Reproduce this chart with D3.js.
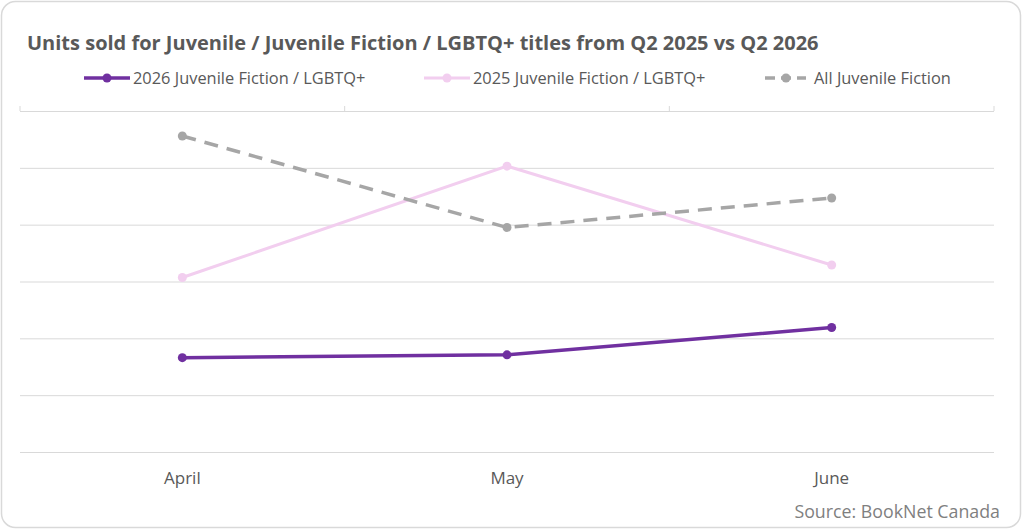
<!DOCTYPE html>
<html>
<head>
<meta charset="utf-8">
<script src="https://cdn.jsdelivr.net/npm/d3@7"></script>
<style>
  body { margin: 0; background: #fff; }
  text { font-family: "Open Sans", "Noto Sans", sans-serif; }
</style>
</head>
<body>
<script>
// chart values (no axis labels, so y is in grid units)
var months = ["April", "May", "June"];
var seriesNames = ["2026 Juvenile Fiction / LGBTQ+", "2025 Juvenile Fiction / LGBTQ+", "All Juvenile Fiction"];
var lgbtq2026 = [1.66, 1.71, 2.19];
var lgbtq2025 = [3.07, 5.03, 3.29];
var allJuvenile = [5.56, 3.95, 4.47];
var gridValues = [0, 1, 2, 3, 4, 5, 6];

var W = 1024, H = 532;
var margin = { top: 111, right: 30, bottom: 80, left: 20 };
var width = W - margin.left - margin.right,
    height = H - margin.top - margin.bottom;

var series = [
  { name: seriesNames[0], values: lgbtq2026, color: "#7030a0", width: 3.5, dash: null },
  { name: seriesNames[1], values: lgbtq2025, color: "#f2ceef", width: 3, dash: null },
  { name: seriesNames[2], values: allJuvenile, color: "#a6a6a6", width: 3.5, dash: "14,9" }
];

var svg = d3.select("body").append("svg")
  .attr("width", W).attr("height", H);

// card frame
svg.append("rect")
  .attr("x", 1.5).attr("y", 1.5)
  .attr("width", 1019).attr("height", 526)
  .attr("rx", 14)
  .attr("fill", "#fff").attr("stroke", "#d9d9d9").attr("stroke-width", 1.5);

svg.append("text")
  .attr("x", 27).attr("y", 50)
  .attr("fill", "#595959")
  .attr("font-size", 20).attr("font-weight", 700)
  .text("Units sold for Juvenile / Juvenile Fiction / LGBTQ+ titles from Q2 2025 vs Q2 2026");

var g = svg.append("g").attr("transform", "translate(" + margin.left + "," + margin.top + ")");

var x = d3.scaleBand().domain(months).range([0, width]);
var y = d3.scaleLinear().domain([0, 6]).range([height, 0]);

// gridlines
g.append("g")
  .call(d3.axisLeft(y).tickValues(gridValues).tickSize(-width).tickFormat(""))
  .call(function (a) {
    a.select(".domain").remove();
    a.selectAll("line").attr("stroke", "#d9d9d9");
  });

// category tick marks on the top line
var bounds = months.map(function (m) { return x(m); }).concat([width]);
g.selectAll(".ctick").data(bounds).enter().append("line")
  .attr("x1", function (d) { return d; }).attr("x2", function (d) { return d; })
  .attr("y1", -5).attr("y2", 0)
  .attr("stroke", "#d9d9d9");

// month labels
g.append("g")
  .attr("transform", "translate(0," + height + ")")
  .call(d3.axisBottom(x).tickSize(0).tickPadding(20))
  .call(function (a) {
    a.select(".domain").remove();
    a.selectAll("text").attr("fill", "#595959").attr("font-size", 17);
  });

var line = d3.line()
  .x(function (d, i) { return x(months[i]) + x.bandwidth() / 2; })
  .y(function (d) { return y(d); });

series.forEach(function (s) {
  g.append("path")
    .datum(s.values)
    .attr("fill", "none")
    .attr("stroke", s.color)
    .attr("stroke-width", s.width)
    .attr("stroke-dasharray", s.dash)
    .attr("d", line);
  g.selectAll(null).data(s.values).enter().append("circle")
    .attr("cx", function (d, i) { return x(months[i]) + x.bandwidth() / 2; })
    .attr("cy", function (d) { return y(d); })
    .attr("r", 4.5)
    .attr("fill", s.color);
});

// legend
var legendX = [84, 424, 765];
var leg = svg.append("g").attr("transform", "translate(0,78)");
series.forEach(function (s, i) {
  var lx = legendX[i];
  var item = leg.append("g").attr("transform", "translate(" + lx + ",0)");
  item.append("line")
    .attr("x1", 0).attr("x2", i == 2 ? 41 : 46)
    .attr("stroke", s.color).attr("stroke-width", s.width)
    .attr("stroke-dasharray", i == 2 ? "10,6" : null);
  item.append("circle").attr("cx", i == 2 ? 21 : 23).attr("r", 4.5).attr("fill", s.color);
  item.append("text")
    .attr("x", 49).attr("dy", "0.35em")
    .attr("fill", "#595959").attr("font-size", 16.4)
    .text(s.name);
});

svg.append("text")
  .attr("x", 1000).attr("y", 518)
  .attr("text-anchor", "end")
  .attr("fill", "#7f7f7f").attr("font-size", 17.8)
  .text("Source: BookNet Canada");
</script>
</body>
</html>
